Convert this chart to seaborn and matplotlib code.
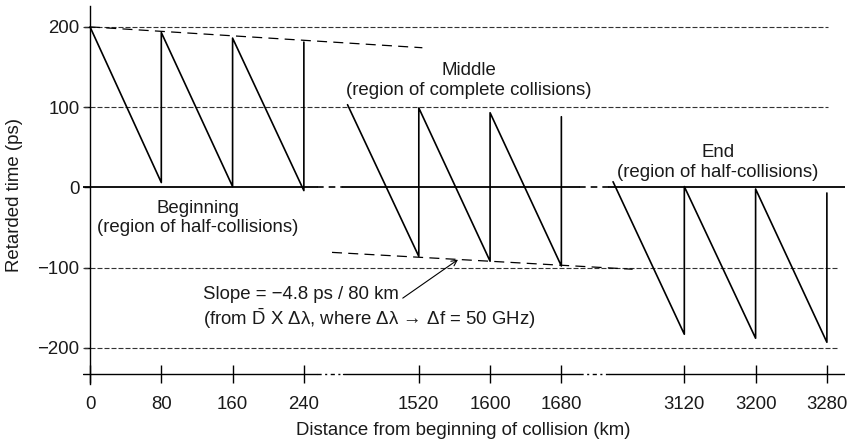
#!/usr/bin/env python3

import numpy as np
import pandas as pd
import seaborn as sns
from matplotlib import pyplot as plt

# sawtooth of retarded time in each region (km, ps)
begin_km = [0, 80, 80, 160, 160, 240, 240]
begin_ps = [200, 6, 193, 1, 186, -4, 181]
middle_km = [1440, 1520, 1520, 1600, 1600, 1680, 1680]
middle_ps = [103, -86, 99, -92, 93, -98, 88]
end_km = [3040, 3120, 3120, 3200, 3200, 3280, 3280]
end_ps = [7, -183, 1, -188, -2, -193, -7]

# dashed guides following the drift of peaks / troughs
upper_guide_km = [0, 1524]
upper_guide_ps = [200, 174]
lower_guide_km = [930, 3062]
lower_guide_ps = [-81, -102]

x_ticks = [0, 80, 160, 240, 1520, 1600, 1680, 3120, 3200, 3280]
x_ticklabels = ['0', '80', '160', '240', '1520', '1600', '1680', '3120', '3200', '3280']
y_ticks = [-200, -100, 0, 100, 200]
grid_ps = [200, 100, -100, -200]
grid_end_km = [3281, 3281, 3294, 3294]

# broken x axis: shown pieces and the compressed gaps between them
pieces_km = [(-8, 255), (1435, 1700), (3035, 3300)]
gaps_km = [(255, 1435), (1700, 3035)]
break_km = [-1000, 255, 1435, 1700, 3035, 4000]
break_pos = [-1000, 255, 284, 549, 582, 1547]


def forward(x):
    return np.interp(x, break_km, break_pos)


def inverse(v):
    return np.interp(v, break_pos, break_km)


def build_frame():
    parts = []
    for name, km, ps in [('Beginning', begin_km, begin_ps),
                         ('Middle', middle_km, middle_ps),
                         ('End', end_km, end_ps)]:
        parts.append(pd.DataFrame({'km': km, 'ps': ps, 'region': name}))
    return pd.concat(parts, ignore_index=True)


def main():
    sns.set_style('white')
    plt.rcParams['font.family'] = ['Liberation Sans', 'DejaVu Sans']
    plt.rcParams['mathtext.fontset'] = 'custom'
    plt.rcParams['mathtext.rm'] = 'Liberation Sans'
    plt.rcParams['mathtext.it'] = 'Liberation Sans:italic'
    ink = '#1a1a1a'
    fs = 13.4

    fig = plt.figure(figsize=(8.56, 4.46), dpi=100)
    ax = fig.add_axes([82.9 / 856, 62 / 446, 761.8 / 856, 378 / 446])
    ax.set_xscale('function', functions=(forward, inverse))

    df = build_frame()
    sns.lineplot(data=df, x='km', y='ps', units='region', estimator=None,
                 sort=False, color='black', lw=1.2, ax=ax)

    # horizontal grid
    for y, xe in zip(grid_ps, grid_end_km):
        ax.plot([-8, xe], [y, y], color='#333333', lw=0.8,
                dashes=(4.5, 1.8), zorder=1)
    # zero line and base line, solid on pieces, dashed over gaps
    for a, b in pieces_km:
        ax.plot([a, b], [0, 0], color='black', lw=1.3, zorder=1)
        ax.plot([a, b], [-232, -232], color='black', lw=1.0, zorder=1)
    for a, b in gaps_km:
        ax.plot([a, b], [0, 0], color='black', lw=1.2, dashes=(4, 3), zorder=1)
        ax.plot([a, b], [-232, -232], color='black', lw=1.0,
                dashes=(3, 2.5, 1.5, 2.5), zorder=1)

    ax.plot(upper_guide_km, upper_guide_ps, color='black', lw=0.9, dashes=(8, 5))
    ax.plot(lower_guide_km, lower_guide_ps, color='black', lw=0.9, dashes=(8, 5))

    ax.set_xlim(-8, 3300)
    ax.set_ylim(-245, 226)

    for s in ['top', 'right']:
        ax.spines[s].set_visible(False)
    ax.spines['left'].set_position(('data', 0))
    ax.spines['left'].set_color('black')
    ax.spines['left'].set_linewidth(1.0)
    ax.spines['bottom'].set_position(('data', -232))
    ax.spines['bottom'].set_visible(False)

    ax.set_xticks(x_ticks)
    ax.set_xticklabels(x_ticklabels)
    ax.set_yticks(y_ticks)
    ax.set_yticklabels([str(v).replace('-', '\u2212') for v in y_ticks])
    ax.tick_params(axis='x', direction='inout', length=13, width=1.0,
                   pad=10, labelsize=fs, colors=ink, color='black', bottom=True)
    ax.tick_params(axis='y', direction='out', length=4.5, width=1.0,
                   pad=3, labelsize=fs, colors=ink, color='black', left=True)

    ax.set_xlabel('Distance from beginning of collision (km)', fontsize=fs, color=ink)
    ax.set_ylabel('Retarded time (ps)', fontsize=fs, color=ink)
    ax.xaxis.set_label_coords(0.499, -0.1)
    ax.yaxis.set_label_coords(-0.0786, 0.5)

    ax.text(121, -38, 'Beginning\n(region of half-collisions)', ha='center',
            va='center', fontsize=fs, color=ink)
    ax.text(1576, 133, 'Middle\n(region of complete collisions)', ha='center',
            va='center', fontsize=fs, color=ink)
    ax.text(3158, 31, 'End\n(region of half-collisions)', ha='center',
            va='center', fontsize=fs, color=ink)
    ax.text(127, -151,
            'Slope = \u22124.8 ps / 80 km\n'
            '(from $\\bar{\\mathrm{D}}$ X \u0394\u03bb, where \u0394\u03bb \u2192 \u0394f = 50 GHz)',
            ha='left', va='center', fontsize=fs, color=ink)
    ax.annotate('', xy=(1564, -90), xytext=(1502, -138),
                arrowprops=dict(arrowstyle='->', lw=0.8, color='black',
                                shrinkA=0, shrinkB=0))

    fig.savefig('out.png', dpi=100)


if __name__ == "__main__":
    main()
